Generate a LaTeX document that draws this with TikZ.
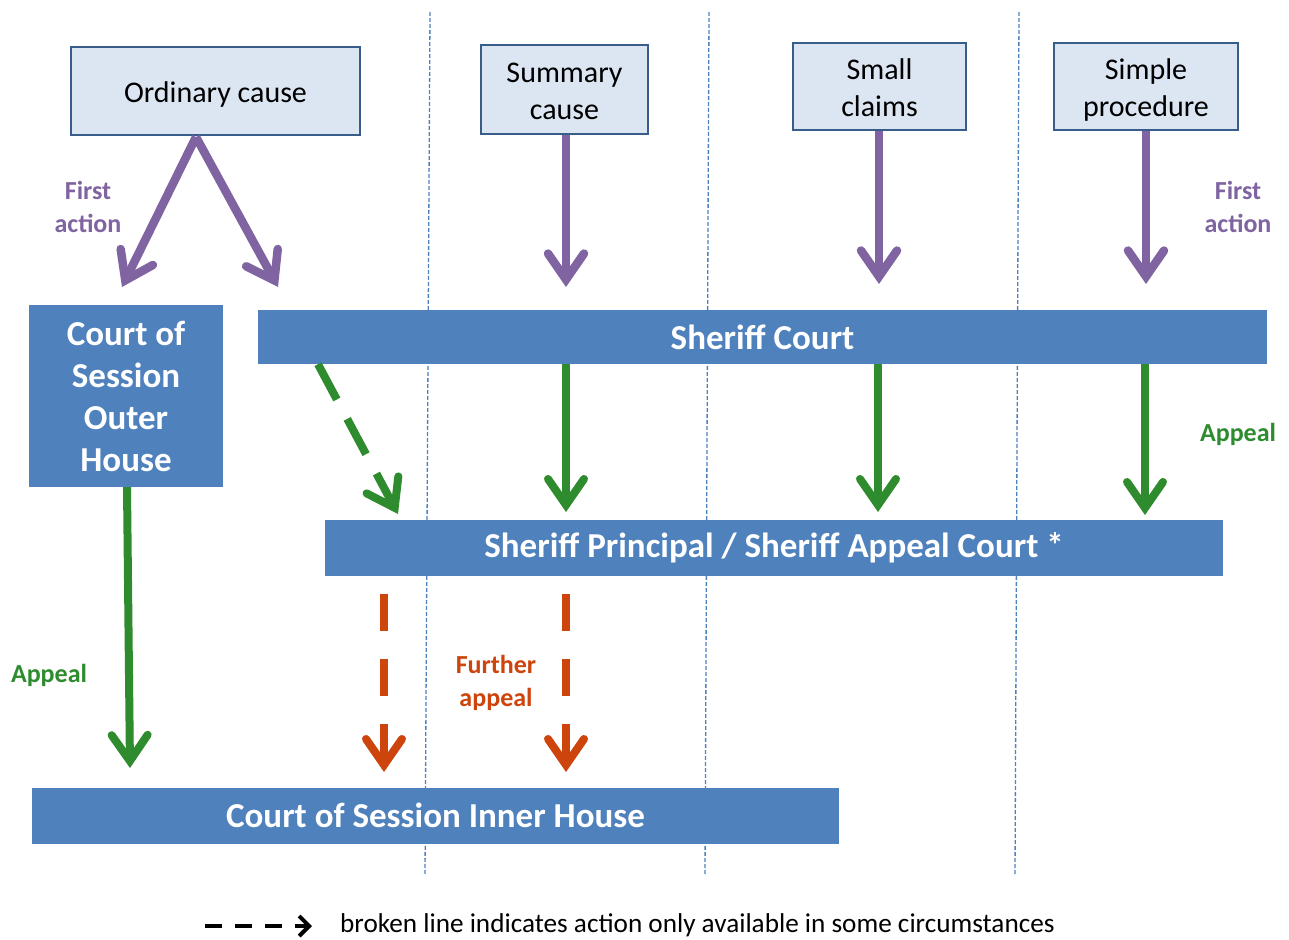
\documentclass[tikz,border=0pt]{standalone}
\usepackage{fontspec}
\setmainfont{Carlito}
\usetikzlibrary{arrows.meta,calc}
\definecolor{barblue}{HTML}{4F81BD}
\definecolor{boxfill}{HTML}{DCE6F2}
\definecolor{boxborder}{HTML}{385D8A}
\definecolor{purp}{HTML}{8064A2}
\definecolor{grn}{RGB}{46,139,46}
\definecolor{orng}{RGB}{205,68,12}
\newcommand{\tops}{\rule{0pt}{31pt}}
\newcommand{\bots}{\rule[-8pt]{0pt}{8pt}}
\begin{document}
\begin{tikzpicture}[x=1pt,y=-1pt,
  topbox/.style={draw=boxborder, fill=boxfill, line width=2.5pt, inner sep=0pt,
    align=center, font=\fontsize{30}{37}\selectfont},
  bar/.style={fill=barblue, text=white, inner sep=0pt, align=center,
    font=\fontsize{35}{42}\selectfont\bfseries},
  sep/.style={draw=barblue, line width=1.3pt, dash pattern=on 4pt off 2pt},
  tipbig/.style={-{Straight Barb[length=26pt,width=36pt,line cap=round,line join=miter]}},
  parr/.style={draw=purp, line width=8.5pt, tipbig},
  garr/.style={draw=grn, line width=8pt, tipbig},
  oarr/.style={draw=orng, line width=8pt, tipbig, dash pattern=on 37pt off 28pt},
  lab/.style={font=\fontsize{26}{33}\selectfont\bfseries, align=center}]
\useasboundingbox (0,0) rectangle (1289,939);
\fill[white] (0,0) rectangle (1289,939);

% separators
\coordinate (s1t) at (430,12); \coordinate (s1b) at (425,875);
\coordinate (s2t) at (709,12); \coordinate (s2b) at (705,875);
\coordinate (s3t) at (1019,12); \coordinate (s3b) at (1015,875);
\draw[sep] (s1t) -- (s1b);
\draw[sep] (s2t) -- (s2b);
\draw[sep] (s3t) -- (s3b);

% top boxes
\node[topbox, minimum width=289pt, minimum height=88pt] (oc) at (215.5,91) {\tops Ordinary cause\bots};
\node[topbox, minimum width=167pt, minimum height=89pt] (sc) at (564.5,89.5) {\tops Summary\\cause\bots};
\node[topbox, minimum width=173pt, minimum height=87pt] (smc) at (879.5,86.5) {\tops Small\\claims\bots};
\node[topbox, minimum width=184pt, minimum height=87pt] (sp) at (1146,86.5) {\tops Simple\\procedure\bots};

% courts
\node[bar, minimum width=194pt, minimum height=182pt] (coh) at (126,396) {Court of\\Session\\Outer\\House};
\node[bar, minimum width=1009pt, minimum height=54pt] (shc) at (762.5,337) {Sheriff Court};
\node[bar, minimum width=898pt, minimum height=56pt] (spc) at (774,547.5) {Sheriff Principal / Sheriff Appeal Court *};
\node[bar, minimum width=807pt, minimum height=56pt] (cih) at (435.5,815.5) {Court of Session Inner House};

% purple first-action arrows
\coordinate (ocs) at (196,137);
\coordinate (t1) at (122,287);
\coordinate (t2) at (278,287);
\draw[parr] (ocs) -- (t1);
\draw[parr] (ocs) -- (t2);
\draw[parr] (sc.south -| 566,0) -- (566,287);
\draw[parr] (smc.south -| 879,0) -- (879,284);
\draw[parr] (sp.south -| 1146,0) -- (1146,284);

% green appeal arrows
\draw[garr] (coh.south -| 127,0) -- (130,768);
\draw[garr] (shc.south -| 566,0) -- (566,512);
\draw[garr] (shc.south -| 878,0) -- (878,512);
\draw[garr] (shc.south -| 1145,0) -- (1145,515);
\draw[garr, dash pattern=on 40pt off 22pt] (shc.south -| 318,0) -- (398,514);

% orange further appeal
\draw[oarr] (384,594) -- (384,772);
\draw[oarr] (566,594) -- (566,772);

% labels
\node[lab, text=purp] (l1) at (88,207) {First\\action};
\node[lab, text=purp] (l2) at (1238,207) {First\\action};
\node[lab, text=grn] (l3) at (1238,434) {Appeal};
\node[lab, text=grn] (l4) at (49,675) {Appeal};
\node[lab, text=orng] (l5) at (496,683) {Further\\appeal};

% legend
\coordinate (la) at (205,926);
\coordinate (lb) at (312,926);
\draw[line width=4pt, dash pattern=on 17pt off 13pt, -{Straight Barb[length=10pt,width=20pt,line join=miter]}] (la) -- (lb);
\node[anchor=west, inner sep=0pt, font=\fontsize{27.2}{32}\selectfont] (lt) at (340,925) {broken line indicates action only available in some circumstances};
\end{tikzpicture}
\end{document}
